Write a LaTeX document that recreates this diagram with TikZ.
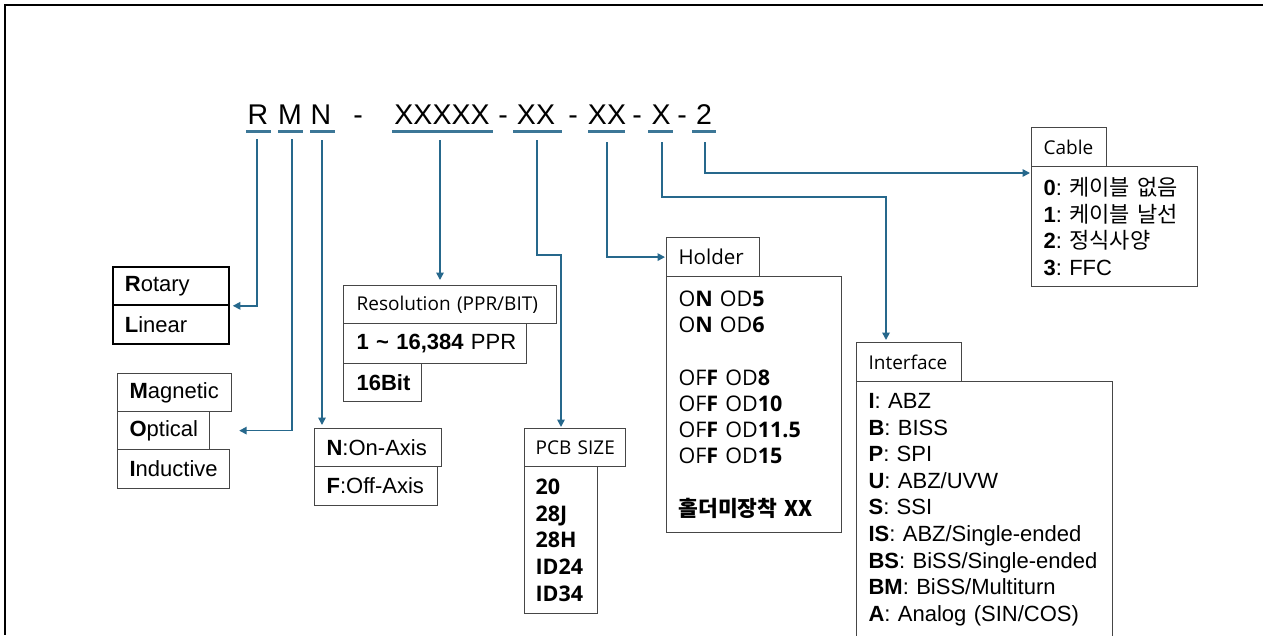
\documentclass[tikz,border=0pt]{standalone}
\usepackage{fontspec}
\setmainfont{Liberation Sans}
\newfontfamily\hdr{Open Sans}
\newfontfamily\kr{Noto Sans CJK KR}
\usetikzlibrary{arrows.meta}
\definecolor{conncol}{RGB}{38,104,140}
\definecolor{boxcol}{RGB}{70,70,70}
\frenchspacing
\tikzset{
  box/.style={draw=boxcol, line width=1.2pt, anchor=north west, inner xsep=12pt, inner ysep=0pt,
    align=left, font=\fontsize{22pt}{26.6pt}\selectfont},
  hbox/.style={box, font=\hdr\fontsize{19pt}{24pt}\selectfont},
  rlbox/.style={box, draw=black, line width=1.8pt},
  conn/.style={draw=conncol, line width=1.6pt},
  arr/.style={conn, -{Triangle[length=7.5pt,width=7.5pt]}},
  uline/.style={draw=conncol!90, line width=2.2pt},
  code/.style={font=\fontsize{28.5pt}{30pt}\selectfont, inner sep=0pt, anchor=base},
}
\begin{document}
\begin{tikzpicture}[x=1pt,y=-1pt]
\useasboundingbox (0,0) rectangle (1263,635);
\fill[white] (0,0) rectangle (1263,635);
\draw[line width=2.5pt] (1263,5) -- (5,5) -- (5,635);

% code line
\node[code] (cR) at (258,124) {R};
\node[code] (cM) at (290,124) {M};
\node[code] (cN) at (321,124) {N};
\node[code] (d1) at (358,124) {-};
\node[code] (cX5) at (442,124) {XXXXX};
\node[code] (d2) at (503,124) {-};
\node[code] (cXX1) at (536,124) {XX};
\node[code] (d3) at (573,124) {-};
\node[code] (cXX2) at (607,124) {XX};
\node[code] (d4) at (637,124) {-};
\node[code] (cX) at (661,124) {X};
\node[code] (d5) at (682,124) {-};
\node[code] (c2) at (704,124) {2};

\draw[uline] (246,131.5) -- (271,131.5);
\draw[uline] (278,131.5) -- (303,131.5);
\draw[uline] (310,131.5) -- (335,131.5);
\draw[uline] (392,131.5) -- (493,131.5);
\draw[uline] (513,131.5) -- (562,131.5);
\draw[uline] (588,131.5) -- (625,131.5);
\draw[uline] (648,131.5) -- (673,131.5);
\draw[uline] (692,131.5) -- (716,131.5);

\coordinate (sR) at (257,139);
\coordinate (sM) at (292,139);
\coordinate (sN) at (322,140);
\coordinate (sX5) at (440,140);
\coordinate (sXX1) at (537,140);
\coordinate (sXX2) at (607,142);
\coordinate (sX) at (662,142);
\coordinate (s2) at (705,142);
\coordinate (jA) at (561,255);
\coordinate (jB) at (886,197);

% boxes
\node[rlbox, text width=92pt, minimum height=38pt] (rot) at (112,266) {\textbf{R}otary};
\node[rlbox, text width=92pt, minimum height=39pt] (lin) at (112,304) {\textbf{L}inear};

\node[box, text width=90pt, minimum height=38pt] (mag) at (117,373) {\mbox{\textbf{M}agnetic}};
\node[box, text width=68pt, minimum height=38pt] (opt) at (117,411) {\mbox{\textbf{O}ptical}};
\node[box, text width=88pt, minimum height=39pt] (ind) at (117,449) {\mbox{\textbf{I}nductive}};

\node[box, text width=103pt, minimum height=38pt] (non) at (314,428) {\mbox{\textbf{N}:On-Axis}};
\node[box, text width=99pt, minimum height=39pt] (foff) at (314,466) {\mbox{\textbf{F}:Off-Axis}};

\node[hbox, inner xsep=13pt, text width=187pt, minimum height=38pt] (resh) at (343,285) {\mbox{Resolution (PPR/BIT)}};
\node[box, inner xsep=13pt, text width=157pt, minimum height=40pt] (ppr) at (343,323) {\mbox{\textbf{1 \char`~{} 16,384} PPR}};
\node[box, inner xsep=13pt, text width=52pt, minimum height=38pt] (bit) at (343,363) {\textbf{16Bit}};

\node[hbox, inner xsep=11pt, text width=79pt, minimum height=38pt] (pcbh) at (524,428) {\mbox{PCB SIZE}};
\node[box, inner xsep=11pt, text width=51pt, minimum height=147pt,
  font=\hdr\bfseries\fontsize{21.5pt}{26.75pt}\selectfont] (pcbl) at (524,466)
  {20\\28J\\28H\\ID24\\ID34};

\node[hbox, font=\hdr\fontsize{20.5pt}{24pt}\selectfont, text width=69pt, minimum height=39pt] (holh) at (666,237) {Holder};
\node[box, text width=151pt, minimum height=256pt,
  font=\hdr\fontsize{21.5pt}{26.25pt}\selectfont] (holl) at (666,276)
  {\mbox{O\textbf{N} OD\textbf{5}}\\
   \mbox{O\textbf{N} OD\textbf{6}}\\
   ~\\
   \mbox{OF\textbf{F} OD\textbf{8}}\\
   \mbox{OF\textbf{F} OD\textbf{10}}\\
   \mbox{OF\textbf{F} OD\textbf{11.5}}\\
   \mbox{OF\textbf{F} OD\textbf{15}}\\
   ~\\
   \mbox{\kr\bfseries 홀더미장착 XX}};

\node[hbox, text width=81pt, minimum height=39pt] (ifh) at (856,342) {Interface};
\node[box, text width=232pt, minimum height=256pt] (ifl) at (856,381)
  {\mbox{\textbf{I}: ABZ}\\
   \mbox{\textbf{B}: BISS}\\
   \mbox{\textbf{P}: SPI}\\
   \mbox{\textbf{U}: ABZ/UVW}\\
   \mbox{\textbf{S}: SSI}\\
   \mbox{\textbf{IS}: ABZ/Single-ended}\\
   \mbox{\textbf{BS}: BiSS/Single-ended}\\
   \mbox{\textbf{BM}: BiSS/Multiturn}\\
   \mbox{\textbf{A}: Analog (SIN/COS)}};

\node[hbox, text width=51pt, minimum height=39pt] (cabh) at (1031,127) {Cable};
\node[box, text width=142pt, minimum height=120pt] (cabl) at (1031,166)
  {\mbox{\textbf{0}: {\kr 케이블 없음}}\\
   \mbox{\textbf{1}: {\kr 케이블 날선}}\\
   \mbox{\textbf{2}: {\kr 정식사양}}\\
   \mbox{\textbf{3}: FFC}};

% connectors
\draw[arr] (sR) |- ([xshift=3pt]rot.south east);
\draw[arr] (sM) |- ([xshift=29pt]opt.east);
\draw[arr] (sN) -- ([yshift=3pt]sN |- non.north);
\draw[arr] (sX5) -- ([yshift=5pt]sX5 |- resh.north);
\draw[arr] (sXX1) |- (jA) -- ([yshift=1pt]jA |- pcbh.north);
\draw[arr] (sXX2) |- ([xshift=-1pt]holh.west);
\draw[arr] (sX) |- (jB) -- ([yshift=2pt]jB |- ifh.north);
\draw[arr] (s2) |- ([xshift=-1pt,yshift=-7pt]cabl.north west);
\end{tikzpicture}
\end{document}
